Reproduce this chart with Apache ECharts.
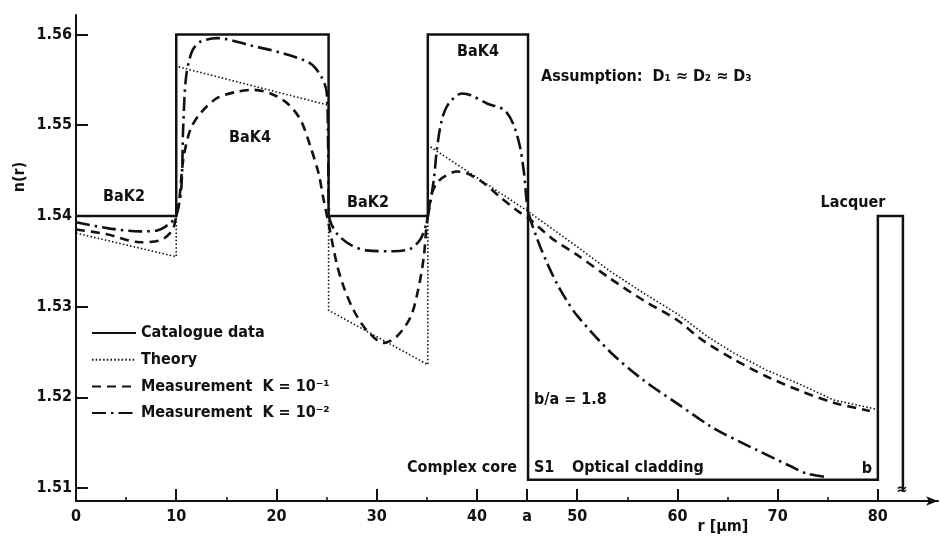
<!DOCTYPE html>
<html>
<head>
<meta charset="utf-8">
<script src="https://cdn.jsdelivr.net/npm/echarts@6/dist/echarts.min.js"></script>
<style>
  html, body { margin: 0; padding: 0; background: #fff; }
  #chart { width: 940px; height: 549px; }
</style>
</head>
<body>
<div id="chart"></div>
<script>
// Refractive index profile n(r) of a multi-step fibre preform, r in µm.

// Catalogue data: stepped glass layers BaK2 / BaK4 / BaK2 / BaK4, cladding S1 and lacquer
const catalogueR = [0, 10, 10, 25.2, 25.2, 35.1, 35.1, 45.1, 45.1, 80, 80, 82.5, 82.5];
const catalogueN = [1.54, 1.54, 1.56, 1.56, 1.54, 1.54, 1.56, 1.56, 1.5109, 1.5109, 1.54, 1.54, 1.5097];

// Theory
const theoryR = [0, 10, 10, 25.2, 25.2, 35.1, 35.1, 45.1, 50, 53.3, 56.6, 60, 63, 65.6, 68.9, 72.3, 75.6, 79.8];
const theoryN = [1.5381, 1.5355, 1.5565, 1.5522, 1.5296, 1.5236, 1.5478, 1.5405, 1.5366, 1.5339, 1.5315, 1.5292, 1.5267, 1.5249, 1.5230, 1.5214, 1.5197, 1.5187];

// Measurement, K = 10^-1
const measK1R = [0, 3, 6.4, 8.4, 9.6, 10.0, 10.3, 10.7, 11.4, 12.4, 14.1, 16.1, 17.7, 19.4, 21.1, 22.4, 23.4, 24.2, 24.7, 25.1,
  26.0, 26.7, 27.7, 29.0, 30.7, 32.0, 33.4, 34.2, 34.7, 35.0, 35.5, 36.0, 36.7, 38.0, 39.0, 40.7, 42.3, 44.0, 45.3,
  47.5, 50.0, 53.3, 56.6, 60.0, 62.5, 65.6, 68.9, 72.3, 75.6, 79.2];
const measK1N = [1.5385, 1.5380, 1.5371, 1.5373, 1.5384, 1.5400, 1.5417, 1.5462, 1.5495, 1.5513, 1.5530, 1.5537, 1.5539, 1.5535, 1.5524, 1.5506, 1.5476, 1.5447, 1.5418, 1.5397,
  1.5348, 1.5322, 1.5296, 1.5274, 1.5260, 1.5267, 1.5289, 1.5322, 1.5355, 1.5392, 1.5425, 1.5436, 1.5443, 1.5449, 1.5447, 1.5436, 1.5421, 1.5406, 1.5396,
  1.5375, 1.5357, 1.5331, 1.5307, 1.5285, 1.5263, 1.5242, 1.5223, 1.5207, 1.5194, 1.5185];

// Measurement, K = 10^-2
const measK2R = [0, 3.4, 6.4, 8.1, 9.4, 10.0, 10.5, 10.7, 11.0, 11.6, 12.4, 14.1, 17.4, 20.7, 23.4, 24.5, 25.0, 25.15, 25.25,
  26.0, 27.4, 29.0, 31.7, 33.4, 34.4, 35.0, 35.7, 36.0, 36.5, 37.2, 38.5, 39.4, 41.0, 42.7, 43.6, 44.3, 44.7, 45.1,
  46.0, 47.0, 48.0, 49.0, 50.0, 53.3, 56.6, 60.0, 63.3, 64.6, 67.9, 71.3, 72.9, 74.9];
const measK2N = [1.5393, 1.5386, 1.5383, 1.5384, 1.5392, 1.5400, 1.5430, 1.5500, 1.5555, 1.5582, 1.5592, 1.5596, 1.5588, 1.5579, 1.5568, 1.5553, 1.5537, 1.5480, 1.5400,
  1.5381, 1.5368, 1.5362, 1.5361, 1.5364, 1.5375, 1.5394, 1.5440, 1.5473, 1.5506, 1.5524, 1.5535, 1.5533, 1.5524, 1.5517, 1.5502, 1.5476, 1.5447, 1.5406,
  1.5375, 1.5348, 1.5325, 1.5306, 1.5290, 1.5250, 1.5219, 1.5193, 1.5168, 1.5160, 1.5142, 1.5124, 1.5116, 1.5112];

// Axis ticks
const yTicks = [1.51, 1.52, 1.53, 1.54, 1.55, 1.56];
const xMajorTicks = [0, 10, 20, 30, 40, 45, 50, 60, 70, 80];
const xMinorTicks = [5, 15, 25, 35, 55, 65, 75];
const coreRadius = 45; // tick labelled "a"

const seriesNames = ['Catalogue data', 'Theory', 'Measurement  K = 10⁻¹', 'Measurement  K = 10⁻²'];

const zip = (xs, ys) => xs.map((x, i) => [x, ys[i]]);

const FONT = "'DejaVu Sans Condensed', 'DejaVu Sans', sans-serif";
const INK = '#111';

const chart = echarts.init(document.getElementById('chart'), null, { renderer: 'canvas' });

function txt(x, y, text, opts) {
  return {
    type: 'text', x: x, y: y, silent: true,
    style: Object.assign({
      text: text, fill: INK, font: 'bold 16px ' + FONT,
      textAlign: 'center', textVerticalAlign: 'middle'
    }, opts || {})
  };
}

const option = {
  animation: false,
  backgroundColor: '#fff',
  color: [INK, INK, INK, INK],
  textStyle: { fontFamily: FONT },
  grid: { left: 76, right: 2, top: 15, bottom: 48, containLabel: false },
  xAxis: [{
    type: 'value', min: 0, max: 86,
    splitLine: { show: false },
    axisLine: { show: true, lineStyle: { color: INK, width: 2 }, symbol: ['none', 'arrow'], symbolSize: [7, 12] },
    axisTick: { show: true, inside: true, length: 12, customValues: xMajorTicks.filter(v => v > 0), lineStyle: { color: INK, width: 2 } },
    axisLabel: {
      show: true, margin: 8, customValues: xMajorTicks,
      color: INK, fontSize: 16, fontWeight: 'bold', fontFamily: FONT,
      formatter: v => (v === coreRadius ? 'a' : String(v))
    }
  }, {
    type: 'value', min: 0, max: 86, position: 'bottom',
    splitLine: { show: false },
    axisLine: { show: false },
    axisTick: { show: true, inside: true, length: 4, customValues: xMinorTicks, lineStyle: { color: INK, width: 1.5 } },
    axisLabel: { show: false }
  }],
  yAxis: {
    type: 'value', min: 1.50857, max: 1.56215,
    splitLine: { show: false },
    axisLine: { show: true, lineStyle: { color: INK, width: 2 } },
    axisTick: { show: true, inside: true, length: 12, customValues: yTicks, lineStyle: { color: INK, width: 2 } },
    axisLabel: {
      show: true, margin: 4, customValues: yTicks,
      color: INK, fontSize: 16, fontWeight: 'bold', fontFamily: FONT,
      formatter: v => v.toFixed(2)
    }
  },
  legend: {
    orient: 'vertical', left: 91, top: 325, padding: 0,
    itemWidth: 44, itemHeight: 14, itemGap: 10.7,
    selectedMode: false,
    data: seriesNames,
    itemStyle: { opacity: 0 },
    textStyle: { color: INK, fontSize: 16, fontWeight: 'bold', fontFamily: FONT }
  },
  series: [
    {
      name: seriesNames[0], type: 'line', data: zip(catalogueR, catalogueN),
      symbol: 'none', itemStyle: { color: INK }, lineStyle: { color: INK, width: 2.5, join: 'miter' }, z: 5
    },
    {
      name: seriesNames[1], type: 'line', data: zip(theoryR, theoryN),
      symbol: 'none', itemStyle: { color: INK }, lineStyle: { color: INK, width: 1.6, type: [1.5, 2.2] }, z: 4
    },
    {
      name: seriesNames[2], type: 'line', data: zip(measK1R, measK1N),
      symbol: 'none', smooth: 0.3, itemStyle: { color: INK },
      lineStyle: { color: INK, width: 2.6, type: [9, 6] }, z: 3
    },
    {
      name: seriesNames[3], type: 'line', data: zip(measK2R, measK2N),
      symbol: 'none', smooth: 0.3, itemStyle: { color: INK },
      lineStyle: { color: INK, width: 2.6, type: [14, 5, 2.5, 5] }, z: 3
    }
  ],
  graphic: [
    txt(124, 197, 'BaK2'),
    txt(250, 138, 'BaK4'),
    txt(368, 203, 'BaK2'),
    txt(478, 52, 'BaK4'),
    txt(541, 77, 'Assumption:  D₁ ≈ D₂ ≈ D₃', { textAlign: 'left' }),
    txt(853, 203, 'Lacquer'),
    txt(534, 400, 'b/a = 1.8', { textAlign: 'left' }),
    txt(517, 468, 'Complex core', { textAlign: 'right' }),
    txt(534, 468, 'S1', { textAlign: 'left' }),
    txt(572, 468, 'Optical cladding', { textAlign: 'left' }),
    txt(867, 469, 'b'),
    txt(902, 490, '≈', { font: 'bold 15px ' + FONT }),
    txt(723, 527, 'r [µm]'),
    { type: 'text', x: 20, y: 177, rotation: Math.PI / 2, silent: true,
      style: { text: 'n(r)', fill: INK, font: 'bold 16px ' + FONT, textAlign: 'center', textVerticalAlign: 'middle' } }
  ]
};

chart.setOption(option);
</script>
</body>
</html>
